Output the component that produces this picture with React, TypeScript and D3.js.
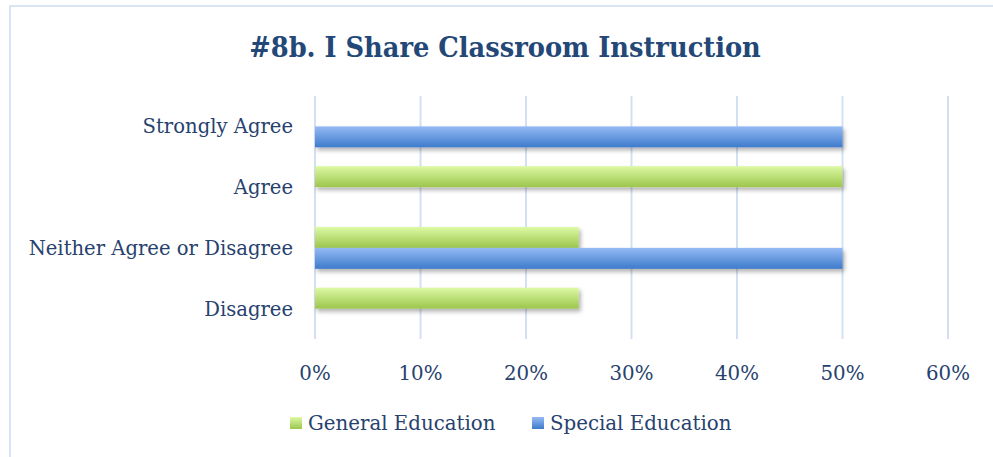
import React, { useRef, useEffect } from "react";
import * as d3 from "d3";

// categories top to bottom, as drawn
const categories = ["Strongly Agree", "Agree", "Neither Agree or Disagree", "Disagree"];
const seriesNames = ["General Education", "Special Education"];
const generalEd = [0, 0.5, 0.25, 0.25];
const specialEd = [0.5, 0, 0.5, 0];
const xTicks = [0, 0.1, 0.2, 0.3, 0.4, 0.5, 0.6];

const title = "#8b. I Share Classroom Instruction";
const textColor = "#27426E";
const font = "'DejaVu Serif', serif";

const App = () => {
  const ref = useRef<SVGSVGElement>(null);

  useEffect(() => {
    const width = 993;
    const height = 457;
    const svg = d3.select(ref.current).attr("width", width).attr("height", height);
    svg.selectAll("*").remove();

    const defs = svg.append("defs");
    const gradGreen = defs.append("linearGradient").attr("id", "gGreen").attr("x1", 0).attr("x2", 0).attr("y1", 0).attr("y2", 1);
    gradGreen.append("stop").attr("offset", "0%").attr("stop-color", "#DDF9A6");
    gradGreen.append("stop").attr("offset", "100%").attr("stop-color", "#9CC64C");
    const gradBlue = defs.append("linearGradient").attr("id", "gBlue").attr("x1", 0).attr("x2", 0).attr("y1", 0).attr("y2", 1);
    gradBlue.append("stop").attr("offset", "0%").attr("stop-color", "#95BAF4");
    gradBlue.append("stop").attr("offset", "100%").attr("stop-color", "#3E7BCB");
    defs
      .append("filter")
      .attr("id", "shadow")
      .attr("x", "-5%")
      .attr("y", "-20%")
      .attr("width", "115%")
      .attr("height", "160%")
      .append("feDropShadow")
      .attr("dx", 2)
      .attr("dy", 3)
      .attr("stdDeviation", 2)
      .attr("flood-color", "#000")
      .attr("flood-opacity", 0.3);

    const fills = ["url(#gGreen)", "url(#gBlue)"];

    // chart frame
    svg
      .append("rect")
      .attr("x", 10)
      .attr("y", 6)
      .attr("width", 1000)
      .attr("height", 470)
      .attr("fill", "#fff")
      .attr("stroke", "#D9E4F4")
      .attr("stroke-width", 2);

    svg
      .append("text")
      .attr("x", 505)
      .attr("y", 57)
      .attr("text-anchor", "middle")
      .attr("fill", "#234878")
      .style("font-family", "'DejaVu Serif Condensed', 'DejaVu Serif', serif")
      .style("font-stretch", "condensed")
      .style("font-weight", "bold")
      .style("font-size", "28.6px")
      .text(title);

    const x = d3.scaleLinear().domain([0, 0.6]).range([315, 948]);
    const y0 = d3.scaleBand().domain(categories).range([96, 339]);
    const y1 = d3
      .scaleBand()
      .domain(seriesNames)
      .range([0, y0.bandwidth()])
      .paddingOuter(0.45);

    // gridlines
    svg
      .append("g")
      .selectAll("line")
      .data(xTicks)
      .enter()
      .append("line")
      .attr("x1", (d) => x(d))
      .attr("x2", (d) => x(d))
      .attr("y1", 96)
      .attr("y2", 339)
      .attr("stroke", "#D3E0F1")
      .attr("stroke-width", 2);

    const rows = categories.map((c, i) => ({ c, vals: [generalEd[i], specialEd[i]] }));

    const groups = svg
      .append("g")
      .selectAll("g")
      .data(rows)
      .enter()
      .append("g")
      .attr("transform", (d) => `translate(0, ${y0(d.c)})`);

    groups
      .selectAll("rect")
      .data((d) => d.vals.map((v, j) => ({ v, s: seriesNames[j], j })).filter((e) => e.v > 0))
      .enter()
      .append("rect")
      .attr("x", x(0))
      .attr("y", (d) => y1(d.s)!)
      .attr("width", (d) => x(d.v) - x(0))
      .attr("height", y1.bandwidth())
      .attr("fill", (d) => fills[d.j])
      .attr("filter", "url(#shadow)");

    // category labels
    svg
      .append("g")
      .selectAll("text")
      .data(categories)
      .enter()
      .append("text")
      .attr("x", 293)
      .attr("y", (d) => y0(d)! + y0.bandwidth() / 2 + 7)
      .attr("text-anchor", "end")
      .attr("fill", textColor)
      .style("font-family", font)
      .style("font-size", "19.6px")
      .text((d) => d);

    // tick labels
    svg
      .append("g")
      .selectAll("text")
      .data(xTicks)
      .enter()
      .append("text")
      .attr("x", (d) => x(d))
      .attr("y", 380)
      .attr("text-anchor", "middle")
      .attr("fill", textColor)
      .style("font-family", font)
      .style("font-size", "19.8px")
      .text((d) => d3.format(".0%")(d));

    // legend
    const legendX = [290, 532];
    const legend = svg
      .append("g")
      .selectAll("g")
      .data(seriesNames)
      .enter()
      .append("g")
      .attr("transform", (d, i) => `translate(${legendX[i]}, 417)`);
    legend
      .append("rect")
      .attr("width", 12)
      .attr("height", 12)
      .attr("fill", (d, i) => fills[i]);
    legend
      .append("text")
      .attr("x", 18)
      .attr("y", 13)
      .attr("fill", textColor)
      .style("font-family", font)
      .style("font-size", "19.8px")
      .text((d) => d);
  }, []);

  return <svg ref={ref} style={{ position: "absolute", left: 0, top: 0 }}></svg>;
};

export default App;
